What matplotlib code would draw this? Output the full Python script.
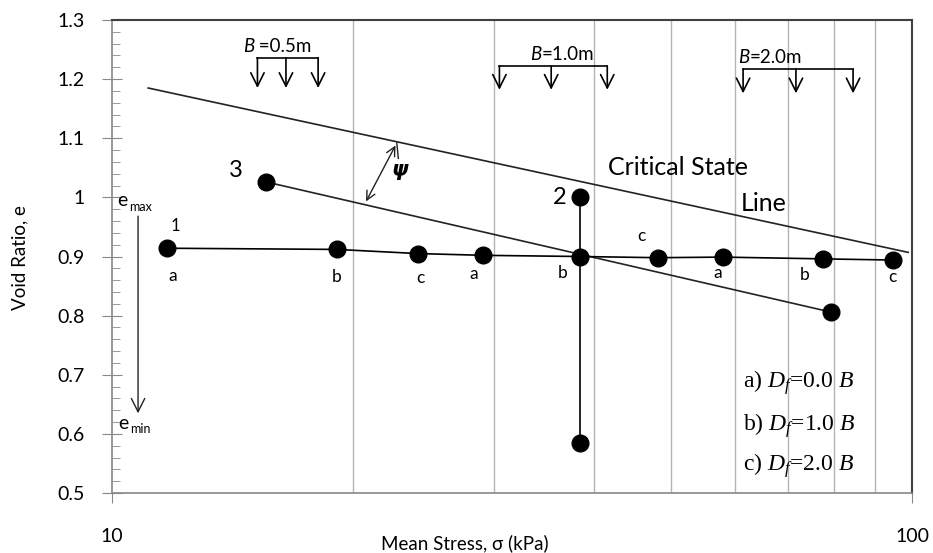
import matplotlib
matplotlib.use("Agg")
import matplotlib.pyplot as plt
from matplotlib.patches import Rectangle
from matplotlib.ticker import FixedLocator, NullFormatter, MultipleLocator

plt.rcParams['font.family'] = ['Lato', 'DejaVu Sans']
plt.rcParams['mathtext.fontset'] = 'custom'
plt.rcParams['mathtext.rm'] = 'Liberation Serif'
plt.rcParams['mathtext.it'] = 'Liberation Serif:italic'

# stress path 1 (a, b, c for the three footing widths)
sigma_path = [11.7, 19.1, 24.1, 29.1, 38.5, 48.1, 58.0, 77.4, 94.7]
e_path = [0.914, 0.912, 0.905, 0.902, 0.900, 0.898, 0.899, 0.896, 0.894]
path_labels = ['a', 'b', 'c', 'a', 'b', 'c', 'a', 'b', 'c']
label_x = [11.9, 19.1, 24.3, 28.3, 36.6, 45.9, 57.2, 73.5, 94.4]
label_e = [0.867, 0.865, 0.863, 0.870, 0.872, 0.935, 0.872, 0.869, 0.865]

# path 2 (vertical) and path 3 (inclined)
sigma_2 = [38.5, 38.5]
e_2 = [1.0, 0.584]
sigma_3 = [15.6, 79.2]
e_3 = [1.026, 0.806]

# critical state line
sigma_csl = [11.1, 98.9]
e_csl = [1.185, 0.907]

# footing symbols: arrow positions, bar level, arrow tip level
footings = [' =0.5m', '=1.0m', '=2.0m']
footing_x = [[15.2, 16.5, 18.1], [30.5, 35.4, 41.6], [61.5, 71.6, 84.4]]
footing_bar = [1.236, 1.222, 1.217]
footing_tip = [1.185, 1.182, 1.176]
footing_text_x = [15.05, 34.4, 62.6]

legend_lines = ['a) $D_f$=0.0 $B$', 'b) $D_f$=1.0 $B$', 'c) $D_f$=2.0 $B$']
legend_y = [0.2326, 0.1416, 0.0571]

fig = plt.figure(figsize=(9.33, 5.53), dpi=100)
ax = fig.add_axes([0.120, 0.1085, 0.8575, 0.8553])
ax.set_xscale('log')
ax.set_xlim(10, 100)
ax.set_ylim(0.5, 1.3)

# grid lines at 20..90
ax.xaxis.set_minor_locator(FixedLocator([20, 30, 40, 50, 60, 70, 80, 90]))
ax.xaxis.set_minor_formatter(NullFormatter())
ax.xaxis.set_major_locator(FixedLocator([10, 100]))
ax.set_xticklabels(['10', '100'])
ax.grid(True, which='minor', axis='x', color='#b4b4b4', linewidth=1.0)
ax.tick_params(axis='x', which='minor', length=0)
ax.tick_params(axis='x', which='major', length=7, color='#888888', pad=18, labelsize=14)

ax.yaxis.set_minor_locator(MultipleLocator(0.02))
ax.set_yticks([0.5, 0.6, 0.7, 0.8, 0.9, 1.0, 1.1, 1.2, 1.3])
ax.set_yticklabels(['0.5', '0.6', '0.7', '0.8', '0.9', '1', '1.1', '1.2', '1.3'])
ax.tick_params(axis='y', which='major', direction='inout', length=15, color='#888888', pad=12, labelsize=14)
ax.tick_params(axis='y', which='minor', direction='in', length=6, color='#888888')

for side in ['left', 'bottom']:
    ax.spines[side].set_color('#888888')
    ax.spines[side].set_linewidth(1.2)
for side in ['top', 'right']:
    ax.spines[side].set_color('#404040')
    ax.spines[side].set_linewidth(1.5)

# white box behind the legend text
ax.add_patch(Rectangle((0.735, 0.004), 0.25, 0.27, transform=ax.transAxes,
                       facecolor='white', edgecolor='none', zorder=1))

lw = 1.2
ms = 12
ax.plot(sigma_csl, e_csl, color='#222222', lw=lw, zorder=3)
ax.plot(sigma_3, e_3, color='#222222', lw=lw, zorder=3)
ax.plot(sigma_3, e_3, 'o', color='black', markersize=ms, zorder=4)
ax.plot(sigma_path, e_path, color='black', lw=lw, marker='o', markersize=ms, zorder=4)
ax.plot(sigma_2, e_2, color='black', lw=lw, marker='o', markersize=ms, zorder=4)

for x, e, lab in zip(label_x, label_e, path_labels):
    ax.text(x, e, lab, ha='center', va='center', fontsize=12.5)

ax.text(12.0, 0.952, '1', ha='center', va='center', fontsize=12)
ax.text(36.3, 1.0, '2', ha='center', va='center', fontsize=17)
ax.text(14.3, 1.045, '3', ha='center', va='center', fontsize=17)
ax.text(41.7, 1.051, 'Critical State', ha='left', va='center', fontsize=18)
ax.text(61.0, 0.990, 'Line', ha='left', va='center', fontsize=18)

# psi arrow between the lines
ax.annotate('', xy=(20.7, 0.989), xytext=(22.7, 1.092),
            arrowprops=dict(arrowstyle='<->', color='#222222', lw=1.0, mutation_scale=16))
ax.plot([22.7, 22.8], [1.092, 1.066], color='#222222', lw=1.0)
ax.text(22.9, 1.046, 'ψ', ha='center', va='center', fontsize=15, fontweight='bold',
        fontstyle='italic', family=['DejaVu Sans'])

# e_max -> e_min arrow
ax.annotate('', xy=(10.78, 0.630), xytext=(10.78, 0.973),
            arrowprops=dict(arrowstyle='->', color='#222222', lw=1.0, mutation_scale=24))
ax.text(10.15, 0.994, 'e', ha='left', va='center', fontsize=14)
ax.text(10.50, 0.984, 'max', ha='left', va='center', fontsize=9)
ax.text(10.19, 0.618, 'e', ha='left', va='center', fontsize=14)
ax.text(10.55, 0.608, 'min', ha='left', va='center', fontsize=9)

# footing symbols
for name, xs, bar, tip, tx in zip(footings, footing_x, footing_bar, footing_tip, footing_text_x):
    ax.plot([xs[0], xs[-1]], [bar, bar], color='black', lw=1.2)
    for x in xs:
        ax.annotate('', xy=(x, tip), xytext=(x, bar),
                    arrowprops=dict(arrowstyle='->', color='black', lw=1.2, mutation_scale=24,
                                    shrinkA=0, shrinkB=0))
    ax.text(tx, bar + 0.019, 'B', ha='right', va='center', fontsize=13.5, fontstyle='italic')
    ax.text(tx, bar + 0.019, name, ha='left', va='center', fontsize=13.5)

for line, y in zip(legend_lines, legend_y):
    ax.text(0.789, y, line, transform=ax.transAxes, ha='left', va='center',
            fontsize=17, family='Liberation Serif', zorder=5)

fig.text(0.498, 0.018, 'Mean Stress, σ (kPa)', ha='center', va='center', fontsize=13.5)
fig.text(0.021, 0.535, 'Void Ratio, e', ha='center', va='center', rotation=90, fontsize=13.5)

fig.savefig('out.png', dpi=100)
